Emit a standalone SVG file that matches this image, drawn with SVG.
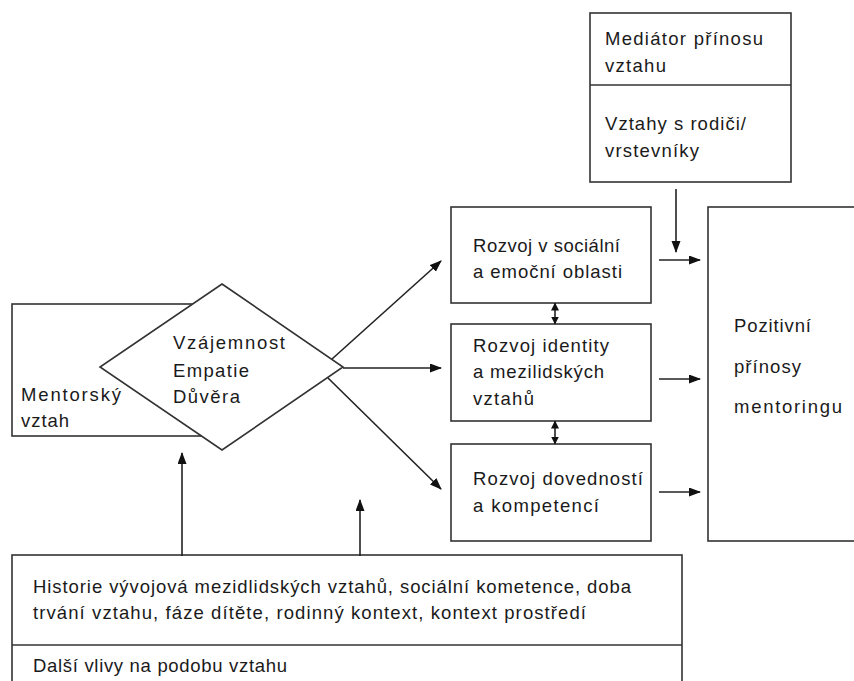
<svg xmlns="http://www.w3.org/2000/svg" width="854" height="681" viewBox="0 0 854 681">
<style>
.box{fill:#fff;stroke:#333;stroke-width:1.6}
.ln{fill:none;stroke:#333;stroke-width:1.6}
.c{stroke:#222;stroke-width:1.6;fill:none;marker-end:url(#ah)}
.d{stroke:#222;stroke-width:1.6;fill:none;marker-start:url(#sh);marker-end:url(#sh)}
text{font-family:"Liberation Sans",Arial,sans-serif;font-size:18.5px;fill:#1a1a1a}
</style>
<defs>
<marker id="ah" markerUnits="userSpaceOnUse" markerWidth="12" markerHeight="10" refX="11" refY="4.5" orient="auto-start-reverse">
<path d="M0,0 L12,4.5 L0,9 z" fill="#111"/>
</marker>
<marker id="sh" markerUnits="userSpaceOnUse" markerWidth="8" markerHeight="8" refX="7.5" refY="4" orient="auto-start-reverse">
<path d="M0,0 L8,4 L0,8 z" fill="#111"/>
</marker>
</defs>
<rect width="854" height="681" fill="#fff"/>

<g id="mediator">
<rect class="box" x="590" y="13" width="201" height="169"/>
<line class="ln" x1="590" y1="85" x2="791" y2="85"/>
<text x="605" y="45" textLength="158" lengthAdjust="spacing">Mediátor přínosu</text>
<text x="605" y="72" textLength="61" lengthAdjust="spacing">vztahu</text>
<text x="605" y="130" textLength="141" lengthAdjust="spacing">Vztahy s rodiči/</text>
<text x="605" y="157" textLength="94" lengthAdjust="spacing">vrstevníky</text>
</g>

<g id="mentorsky">
<rect class="box" x="12" y="304" width="200" height="132"/>
<text x="21" y="401" textLength="100" lengthAdjust="spacing">Mentorský</text>
<text x="21" y="427" textLength="48" lengthAdjust="spacing">vztah</text>
</g>

<g id="diamond">
<polygon class="box" points="222,284 343,367 222,450 100,367"/>
<text x="173" y="349" textLength="112" lengthAdjust="spacing">Vzájemnost</text>
<text x="173" y="377" textLength="76" lengthAdjust="spacing">Empatie</text>
<text x="173" y="403" textLength="67" lengthAdjust="spacing">Důvěra</text>
</g>

<g id="social">
<rect class="box" x="451" y="207" width="200" height="96"/>
<text x="473" y="252" textLength="147" lengthAdjust="spacing">Rozvoj v sociální</text>
<text x="473" y="278" textLength="149" lengthAdjust="spacing">a emoční oblasti</text>
</g>

<g id="identity">
<rect class="box" x="451" y="324" width="200" height="97"/>
<text x="473" y="352" textLength="136" lengthAdjust="spacing">Rozvoj identity</text>
<text x="473" y="378" textLength="131" lengthAdjust="spacing">a mezilidských</text>
<text x="473" y="405" textLength="61" lengthAdjust="spacing">vztahů</text>
</g>

<g id="skills">
<rect class="box" x="451" y="444" width="200" height="97"/>
<text x="473" y="485" textLength="170" lengthAdjust="spacing">Rozvoj dovedností</text>
<text x="473" y="512" textLength="126" lengthAdjust="spacing">a kompetencí</text>
</g>

<g id="positive">
<rect class="box" x="708" y="207" width="160" height="334"/>
<text x="734" y="332" textLength="77" lengthAdjust="spacing">Pozitivní</text>
<text x="734" y="373" textLength="67" lengthAdjust="spacing">přínosy</text>
<text x="734" y="413" textLength="108" lengthAdjust="spacing">mentoringu</text>
</g>

<g id="influences">
<rect class="box" x="12" y="555" width="670" height="140"/>
<line class="ln" x1="12" y1="645" x2="682" y2="645"/>
<text x="33" y="593" textLength="598" lengthAdjust="spacing">Historie vývojová mezidlidských vztahů, sociální kometence, doba</text>
<text x="33" y="619" textLength="553" lengthAdjust="spacing">trvání vztahu, fáze dítěte, rodinný kontext, kontext prostředí</text>
<text x="33" y="672" textLength="254" lengthAdjust="spacing">Další vlivy na podobu vztahu</text>
</g>

<g id="connectors">
<line class="c" x1="676" y1="189" x2="676" y2="252"/>
<line class="c" x1="332" y1="359" x2="441" y2="261"/>
<line class="c" x1="343" y1="368" x2="441" y2="368"/>
<line class="c" x1="328" y1="378" x2="441" y2="489"/>
<line class="c" x1="659" y1="260" x2="700" y2="260"/>
<line class="c" x1="659" y1="379" x2="700" y2="379"/>
<line class="c" x1="659" y1="492" x2="700" y2="492"/>
<line class="d" x1="555" y1="303" x2="555" y2="324"/>
<line class="d" x1="555" y1="421" x2="555" y2="444"/>
<line class="c" x1="182" y1="556" x2="182" y2="453"/>
<line class="c" x1="360" y1="556" x2="360" y2="500"/>
</g>
</svg>
